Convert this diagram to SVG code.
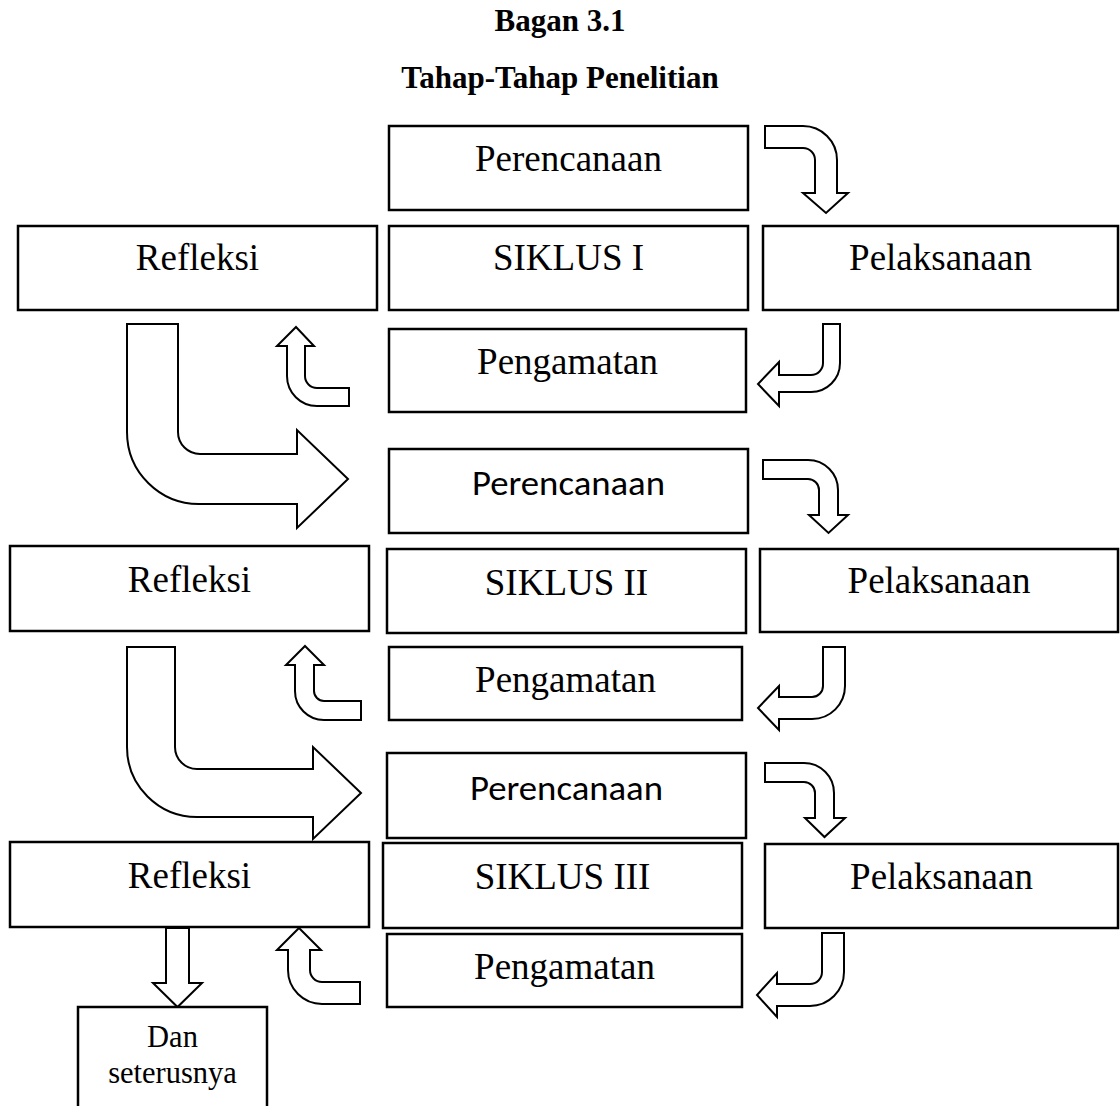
<svg xmlns="http://www.w3.org/2000/svg" width="1120" height="1106" viewBox="0 0 1120 1106">
<style>
.box{fill:#fff;stroke:#000;stroke-width:2.5}
.arr{fill:#fff;stroke:#000;stroke-width:2;stroke-linejoin:miter}
.t{font-family:"Liberation Serif","Times New Roman",serif;font-size:37px;text-anchor:middle;fill:#000}
.s{font-family:Carlito,Lato,"Liberation Sans",sans-serif;font-size:35px;text-anchor:middle;fill:#000}
.d{font-family:"Liberation Serif","Times New Roman",serif;font-size:30.5px;text-anchor:middle;fill:#000}
.h{font-family:"Liberation Serif","Times New Roman",serif;font-size:31px;font-weight:bold;text-anchor:middle;fill:#000}
</style>
<rect width="1120" height="1106" fill="#fff"/>
<g id="title">
<text class="h" x="560" y="31">Bagan 3.1</text>
<text class="h" x="560" y="88">Tahap-Tahap Penelitian</text>
</g>
<g id="connectors">
<path class="arr" d="M127,324 H178 V432 A22,22 0 0 0 200,454 H297 V430 L348,479 L297,528 V504 H200 A72,72 0 0 1 127,432 Z"/>
<path class="arr" d="M127,647 H175 V747 A22,22 0 0 0 197,769 H313 V747 L361,793 L313,839 V817 H197 A70,70 0 0 1 127,747 Z"/>
<path class="arr" d="M296,327 L314,346 H305 V376 A12,12 0 0 0 317,388 H349 V406 H317 A30,30 0 0 1 287,376 V346 H277 Z"/>
<path class="arr" d="M305,646 L324,665 H314 V691 A10,10 0 0 0 324,701 H361 V720 H324 A29,29 0 0 1 295,691 V665 H286 Z"/>
<path class="arr" d="M299,928 L321,950 H310 V970 A12,12 0 0 0 322,982 H360 V1004 H322 A34,34 0 0 1 288,970 V950 H277 Z"/>
<path class="arr" d="M765,126 H803 A34,34 0 0 1 837,160 V193 H848 L826,213 L803,193 H815 V160 A12,12 0 0 0 803,148 H765 Z"/>
<path class="arr" d="M763,460 H808 A30,30 0 0 1 838,490 V515 H848 L828.5,533 L809,515 H819 V490 A11,11 0 0 0 808,479 H763 Z"/>
<path class="arr" d="M765,763 H804 A30,30 0 0 1 834,793 V818 H845 L824.5,837 L805,818 H815 V793 A11,11 0 0 0 804,782 H765 Z"/>
<path class="arr" d="M823,324 H840 V363 A29,29 0 0 1 811,392 H779 V406 L758,384 L779,362 V375 H811 A12,12 0 0 0 823,363 Z"/>
<path class="arr" d="M823,647 H845 V686 A33,33 0 0 1 812,719 H779 V730 L758,708 L779,686 V697 H812 A11,11 0 0 0 823,686 Z"/>
<path class="arr" d="M822,933 H844 V972 A34,34 0 0 1 810,1006 H777 V1017 L757,995 L777,973 V984 H810 A12,12 0 0 0 822,972 Z"/>
<path class="arr" d="M166,928 H189 V983 H202 L177.5,1007 L153,983 H166 Z"/>
</g>
<g id="perencanaan1"><rect class="box" x="389" y="126" width="359" height="84"/><text class="t" x="568.5" y="171">Perencanaan</text></g>
<g id="refleksi1"><rect class="box" x="18" y="226" width="359" height="84"/><text class="t" x="197.5" y="270">Refleksi</text></g>
<g id="siklus1"><rect class="box" x="389" y="226" width="359" height="84"/><text class="t" x="568.5" y="270">SIKLUS I</text></g>
<g id="pelaksanaan1"><rect class="box" x="763" y="226" width="355" height="84"/><text class="t" x="940.5" y="270">Pelaksanaan</text></g>
<g id="pengamatan1"><rect class="box" x="389" y="329" width="357" height="83"/><text class="t" x="567.5" y="374">Pengamatan</text></g>
<g id="perencanaan2"><rect class="box" x="389" y="449" width="359" height="84"/><text class="s" x="568.5" y="495" textLength="193" lengthAdjust="spacingAndGlyphs">Perencanaan</text></g>
<g id="refleksi2"><rect class="box" x="10" y="546" width="359" height="85"/><text class="t" x="189.5" y="592">Refleksi</text></g>
<g id="siklus2"><rect class="box" x="387" y="549" width="359" height="84"/><text class="t" x="566.5" y="595">SIKLUS II</text></g>
<g id="pelaksanaan2"><rect class="box" x="760" y="549" width="358" height="83"/><text class="t" x="939" y="593">Pelaksanaan</text></g>
<g id="pengamatan2"><rect class="box" x="389" y="647" width="353" height="73"/><text class="t" x="565.5" y="692">Pengamatan</text></g>
<g id="perencanaan3"><rect class="box" x="387" y="753" width="359" height="85"/><text class="s" x="566.5" y="800" textLength="193" lengthAdjust="spacingAndGlyphs">Perencanaan</text></g>
<g id="refleksi3"><rect class="box" x="10" y="842" width="359" height="85"/><text class="t" x="189.5" y="888">Refleksi</text></g>
<g id="siklus3"><rect class="box" x="383" y="843" width="359" height="85"/><text class="t" x="562.5" y="889">SIKLUS III</text></g>
<g id="pelaksanaan3"><rect class="box" x="765" y="844" width="353" height="84"/><text class="t" x="941.5" y="889">Pelaksanaan</text></g>
<g id="pengamatan3"><rect class="box" x="387" y="934" width="355" height="73"/><text class="t" x="564.5" y="979">Pengamatan</text></g>
<g id="dan-seterusnya"><rect class="box" x="78" y="1007" width="189" height="110"/><text class="d" x="172.5" y="1047">Dan</text><text class="d" x="172.5" y="1083">seterusnya</text></g>
</svg>
